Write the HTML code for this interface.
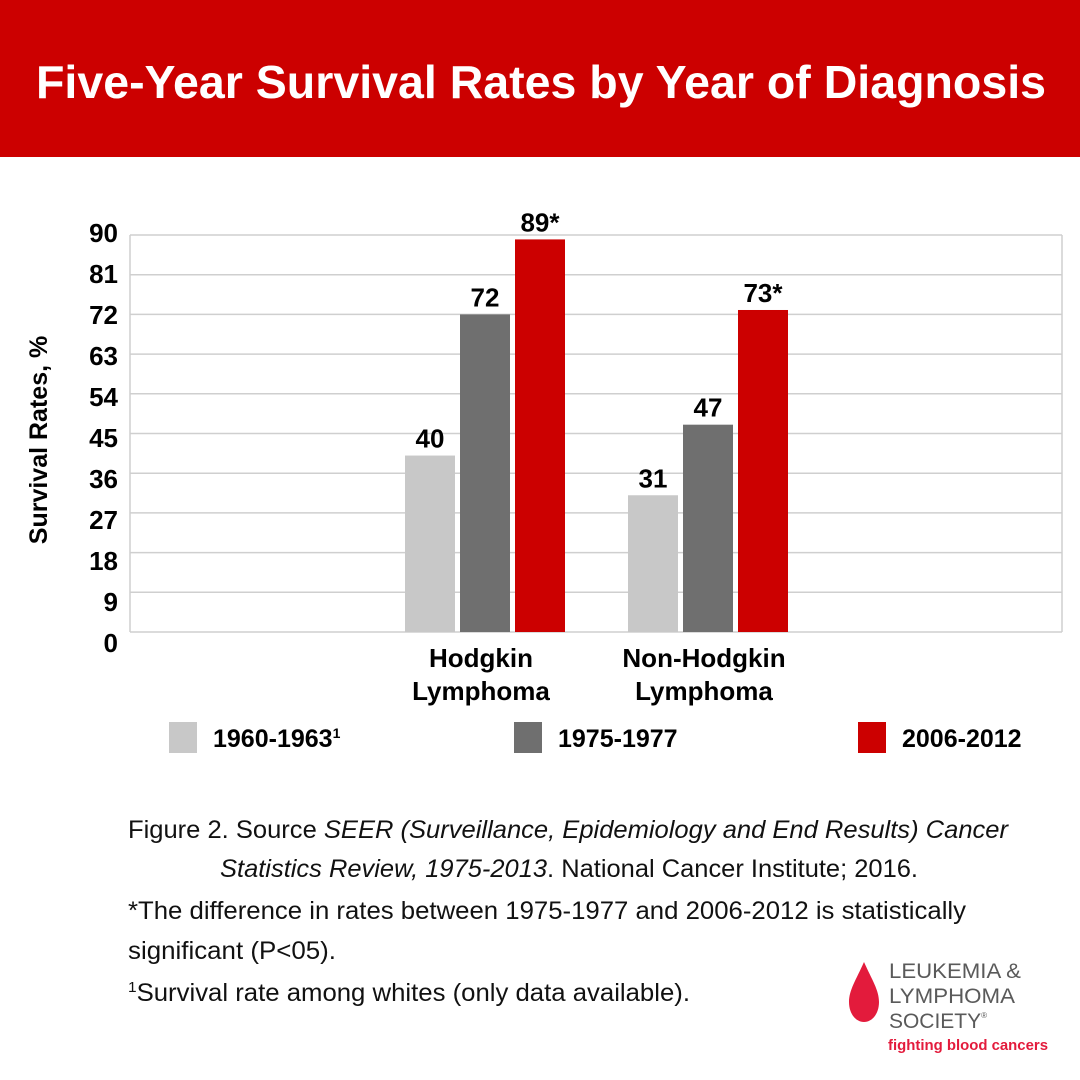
<!DOCTYPE html>
<html><head><meta charset="utf-8"><style>
body{margin:0;background:#fff;}
svg{display:block;font-family:"Liberation Sans",Arial,sans-serif;}
</style></head><body>
<svg id="c" width="1080" height="1080" viewBox="0 0 1080 1080">
<rect x="0" y="0" width="1080" height="157" fill="#cc0000"/>
<text x="541" y="98" text-anchor="middle" fill="#fff" font-weight="bold" font-size="46" textLength="1010" lengthAdjust="spacingAndGlyphs">Five-Year Survival Rates by Year of Diagnosis</text>
<g id="grid"></g>
<g id="ticks"></g>
<g id="bars"></g>
<text transform="translate(47,440) rotate(-90)" text-anchor="middle" font-weight="bold" font-size="25">Survival Rates, %</text>
<g id="cats"></g>
<g id="legend"></g>
<g font-size="25" fill="#111">
<text x="128" y="838" textLength="880" lengthAdjust="spacingAndGlyphs">Figure 2. Source <tspan font-style="italic">SEER (Surveillance, Epidemiology and End Results) Cancer</tspan></text>
<text x="220" y="877" textLength="698" lengthAdjust="spacingAndGlyphs"><tspan font-style="italic">Statistics Review, 1975-2013</tspan>. National Cancer Institute; 2016.</text>
<text x="128" y="919" textLength="838" lengthAdjust="spacingAndGlyphs">*The difference in rates between 1975-1977 and 2006-2012 is statistically</text>
<text x="128" y="959" textLength="208" lengthAdjust="spacingAndGlyphs">significant (P&lt;05).</text>
<text x="128" y="1001" textLength="562" lengthAdjust="spacingAndGlyphs"><tspan font-size="15" dy="-9">1</tspan><tspan dy="9">Survival rate among whites (only data available).</tspan></text>
</g>
<g>
<path d="M864,962 C856,980 849,990 849,1002 C849,1014 856,1022 864,1022 C872,1022 879,1014 879,1002 C879,990 872,980 864,962 Z" fill="#e31b3c"/>
<text x="889" y="978" font-size="21" fill="#5a5a5a" textLength="132" lengthAdjust="spacingAndGlyphs">LEUKEMIA &amp;</text>
<text x="889" y="1003" font-size="21" fill="#5a5a5a" textLength="126" lengthAdjust="spacingAndGlyphs">LYMPHOMA</text>
<text x="889" y="1028" font-size="21" fill="#5a5a5a" textLength="98" lengthAdjust="spacingAndGlyphs">SOCIETY<tspan font-size="8" dy="-10">®</tspan></text>
<text x="888" y="1050" font-size="15" font-weight="bold" fill="#e31b3c" textLength="160" lengthAdjust="spacingAndGlyphs">fighting blood cancers</text>
</g>
</svg>
<script>
const categories=["Hodgkin Lymphoma","Non-Hodgkin Lymphoma"];
const s1960=[40,31];
const s1975=[72,47];
const s2006=[89,73];
const valueLabels1960=["40","31"];
const valueLabels1975=["72","47"];
const valueLabels2006=["89*","73*"];
const yTicks=[0,9,18,27,36,45,54,63,72,81,90];
const seriesNames=["1960-1963","1975-1977","2006-2012"];
const NS="http://www.w3.org/2000/svg";
const L=130,R=1062,T=235,B=632,yMax=90;
const y=v=>B-(v/yMax)*(B-T);
const colors=["#c8c8c8","#6f6f6f","#cc0000"];
const groupCenters=[485,708];
const bw=50,gap=5;
function mk(tag,attrs,parent){const e=document.createElementNS(NS,tag);for(const k in attrs)e.setAttribute(k,attrs[k]);parent.appendChild(e);return e;}
const grid=document.getElementById('grid'),ticks=document.getElementById('ticks'),bars=document.getElementById('bars'),cats=document.getElementById('cats'),leg=document.getElementById('legend');
yTicks.forEach(v=>{
  const ln=mk('line',{x1:L,x2:R,y1:y(v),y2:y(v),stroke:'#cfcfcf','stroke-width':1.5},grid);
  
  
  const t=mk('text',{x:118,y:643-v*4.556+9,'text-anchor':'end','font-size':26,'font-weight':'bold'},ticks);
  t.textContent=String(v);
  
  
});
const fr=mk('line',{x1:L,x2:L,y1:T,y2:B,stroke:'#cfcfcf','stroke-width':1.5},grid);


const fr2=mk('line',{x1:R,x2:R,y1:T,y2:B,stroke:'#cfcfcf','stroke-width':1.5},grid);


const series=[s1960,s1975,s2006],labs=[valueLabels1960,valueLabels1975,valueLabels2006];
categories.forEach((c,i)=>{
  series.forEach((s,j)=>{
    const x=groupCenters[i]+(j-1)*(bw+gap)-bw/2;
    const r=mk('rect',{x:x,y:y(s[i]),width:bw,height:B-y(s[i]),fill:colors[j]},bars);
    
    
    const t=mk('text',{x:x+bw/2,y:y(s[i])-8,'text-anchor':'middle','font-size':26,'font-weight':'bold'},bars);
    t.textContent=labs[j][i];
    
    
  });
  const parts=c==="Hodgkin Lymphoma"?["Hodgkin","Lymphoma"]:["Non-Hodgkin","Lymphoma"];
  parts.forEach((p,k)=>{
    const t=mk('text',{x:groupCenters[i]-4,y:667+k*33,'text-anchor':'middle','font-size':26,'font-weight':'bold'},cats);
    t.textContent=p;
    
    
  });
});
const legX=[169,514,858];
seriesNames.forEach((n,j)=>{
  const r=mk('rect',{x:legX[j],y:722,width:28,height:31,fill:colors[j]},leg);
  
  
  const t=mk('text',{x:legX[j]+44,y:747,'font-size':25,'font-weight':'bold'},leg);
  t.textContent=n;
  if(j===0){const sp=mk('tspan',{'font-size':14,dy:-9},t);sp.textContent='1';}
  
  
});
</script>
</body></html>
